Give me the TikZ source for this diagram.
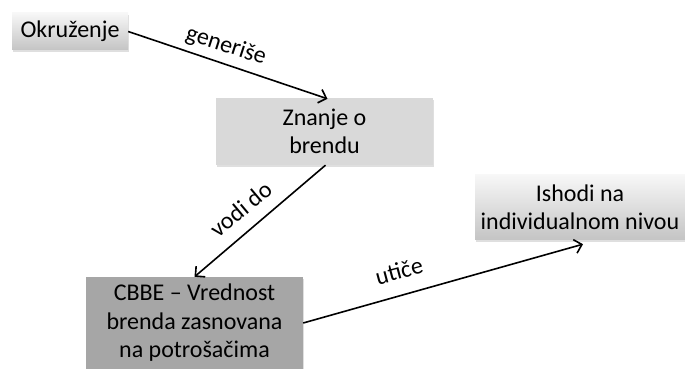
\documentclass[tikz,border=0pt]{standalone}
\usepackage{fontspec}
\setmainfont{Carlito}
\usetikzlibrary{arrows.meta,shadows}
\definecolor{boxlight}{HTML}{D9D9D9}
\definecolor{boxdark}{HTML}{A6A6A6}
\definecolor{gradtop}{HTML}{F7F7F7}
\definecolor{gradbot}{HTML}{C4C4C4}
\tikzset{
  x=1pt, y=1pt,
  every node/.style={font=\fontsize{24}{28.5}\selectfont, text=black},
  box/.style={rectangle, inner sep=0pt, align=center,
    drop shadow={opacity=0.25, shadow xshift=1pt, shadow yshift=-2pt}},
  gradbox/.style={box, top color=gradtop, bottom color=gradbot},
  flatbox/.style={box, fill=#1},
  link/.style={draw=black, line width=1.6pt,
    -{Straight Barb[length=7pt,width=14pt,line width=1.6pt]}},
  lbl/.style={inner sep=0pt}
}
\begin{document}
\begin{tikzpicture}
\useasboundingbox (0,0) rectangle (685,369);
\node[gradbox, minimum width=116, minimum height=37] (okr) at (70,337.5) {Okruženje};
\node[flatbox=boxlight, minimum width=217, minimum height=67] (zn) at (324.5,237.5) {Znanje o\\brendu};
\node[flatbox=boxdark, minimum width=217, minimum height=92] (cb) at (194.5,46) {CBBE -- Vrednost\\brenda zasnovana\\na potrošačima};
\node[gradbox, minimum width=210, minimum height=65] (ish) at (580,161.5) {Ishodi na\\individualnom nivou};

\draw[link] (okr.east) -- ([xshift=3pt,yshift=-1pt]zn.north);
\draw[link] ([xshift=1pt]zn.south) -- (cb.north);
\draw[link] (cb.east) -- ([xshift=3pt,yshift=-4pt]ish.south);

\node[lbl, rotate=-18] (l1) at (226,323) {generiše};
\node[lbl, rotate=40] (l2) at (241,160) {vodi do};
\node[lbl, rotate=15] (l3) at (399,98) {utiče};
\end{tikzpicture}
\end{document}
